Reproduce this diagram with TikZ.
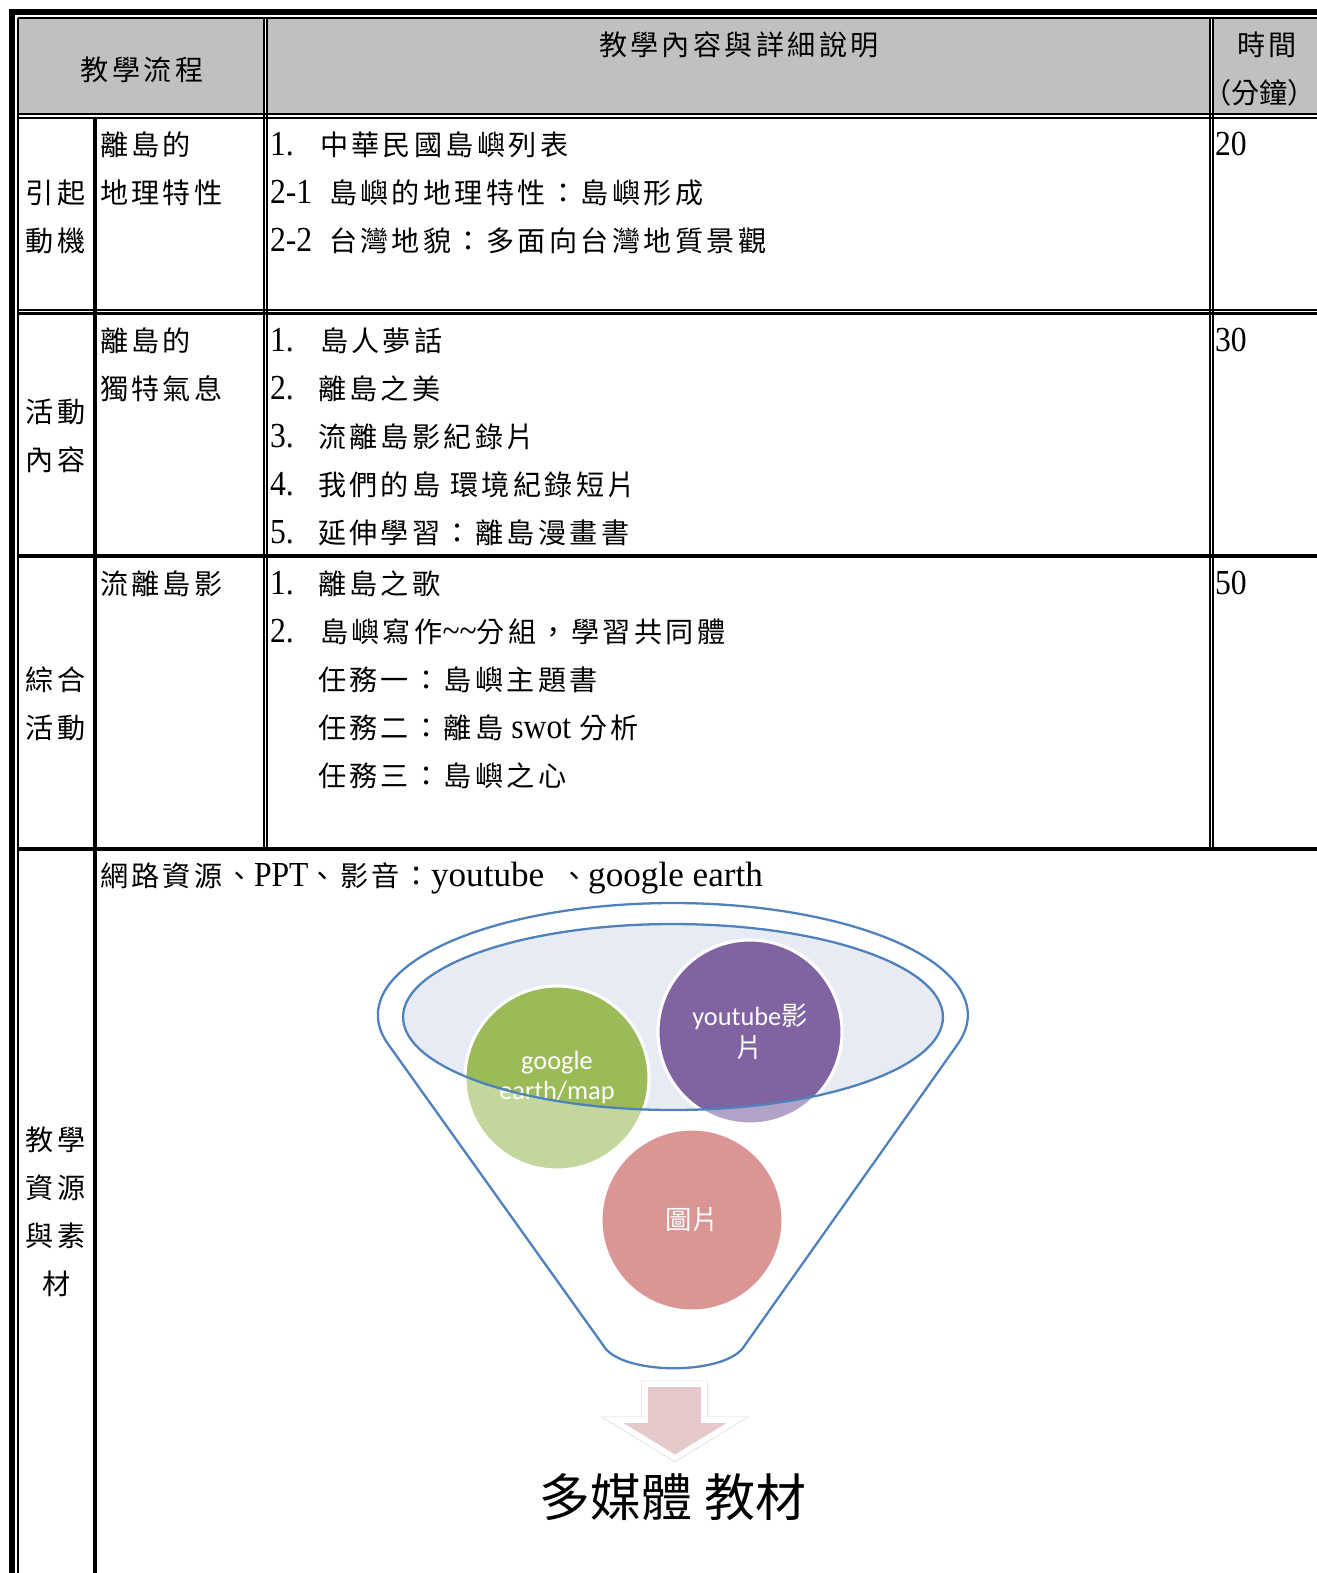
\documentclass[tikz,border=0pt]{standalone}
\usepackage{fontspec}
\setmainfont[FakeStretch=0.9]{Liberation Serif}
\newfontfamily\zhfont[Scale=0.8,LetterSpace=12]{Noto Sans CJK TC}
\newfontfamily\zhsans{Noto Sans CJK TC}
\newfontfamily\calfont{Carlito}
\newfontfamily\latwide{Liberation Serif}
\newcommand\zh[1]{{\zhfont #1}}
\definecolor{headgray}{HTML}{C0C0C0}
\definecolor{funnelblue}{HTML}{4F81BD}
\definecolor{bowlfill}{HTML}{E6EBF4}
\definecolor{leafgreen}{HTML}{9BBB59}
\definecolor{leafgreenlt}{HTML}{C3D69B}
\definecolor{plum}{HTML}{8064A2}
\definecolor{plumlt}{HTML}{B3A2C7}
\definecolor{rose}{HTML}{D99694}
\definecolor{arrowpink}{HTML}{E6CACB}
\begin{document}
\begin{tikzpicture}[x=0.02cm, y=-0.02cm,
	every node/.style={inner sep=0pt, outer sep=0pt},
	font=\fontsize{20pt}{24pt}\selectfont,
	cell/.style={anchor=base west},
	thinrule/.style={line width=0.85pt},
	midrule/.style={line width=1.4pt},
	thickrule/.style={line width=2.2pt},
	bubble/.style={draw=white, line width=1.7pt},
	bubbletext/.style={text=white, font=\calfont\fontsize{15pt}{18pt}\selectfont}]
	\useasboundingbox (0,0) rectangle (1317,1573);
	\clip (0,0) rectangle (1317,1573);
	\fill [color=white] (0,0) rectangle (1317,1573);
	% header cells
	\fill [color=headgray] (19,19) rectangle (263,113);
	\fill [color=headgray] (268,19) rectangle (1209,113);
	\fill [color=headgray] (1214,19) rectangle (1317,113);
	% outer frame
	\fill [color=black] (9,9) rectangle (1317,15);
	\fill [color=black] (9,9) rectangle (15,1573);
	\draw [thinrule] (18,18) -- (1317,18);
	\draw [thinrule] (18,18) -- (18,1573);
	% row rules
	\draw [thinrule] (18,114) -- (1317,114);
	\draw [midrule] (18,118) -- (1317,118);
	\draw [thinrule] (18,310) -- (1317,310);
	\draw [midrule] (18,313.5) -- (1317,313.5);
	\draw [thickrule] (18,556) -- (1317,556);
	\draw [thickrule] (18,849) -- (1317,849);
	% column rules
	\draw [thickrule] (95,118) -- (95,1573);
	\draw [thinrule] (264,18) -- (264,849);
	\draw [thinrule] (267,18) -- (267,849);
	\draw [thinrule] (1210,18) -- (1210,849);
	\draw [thinrule] (1213,18) -- (1213,849);

	% header
	\node [anchor=base] (hflow) at (142,80) {\zh{教學流程}};
	\node [anchor=base] (hcontent) at (739,55) {\zh{教學內容與詳細說明}};
	\node [anchor=base] (htime) at (1267,55) {\zh{時間}};
	\node [anchor=base east, font=\zhsans\fontsize{16pt}{19pt}\selectfont] (hmin) at (1316,103) {（分鐘）};

	% row 1
	\node [cell] (s1a) at (26,203) {\zh{引起}};
	\node [cell] (s1b) at (26,251) {\zh{動機}};
	\node [cell] (t1a) at (100,155) {\zh{離島的}};
	\node [cell] (t1b) at (100,203) {\zh{地理特性}};
	\node [cell] (n1a) at (270,155) {1.};
	\node [cell] (c1a) at (320,155) {\zh{中華民國島嶼列表}};
	\node [cell] (n1b) at (270,203) {2-1};
	\node [cell] (c1b) at (329,203) {\zh{島嶼的地理特性：島嶼形成}};
	\node [cell] (n1c) at (270,251) {2-2};
	\node [cell] (c1c) at (329,251) {\zh{台灣地貌：多面向台灣地質景觀}};
	\node [cell] (m1) at (1215,155) {20};

	% row 2
	\node [cell] (s2a) at (26,422) {\zh{活動}};
	\node [cell] (s2b) at (26,470) {\zh{內容}};
	\node [cell] (t2a) at (100,351) {\zh{離島的}};
	\node [cell] (t2b) at (100,399) {\zh{獨特氣息}};
	\node [cell] (n2a) at (270,351) {1.};
	\node [cell] (c2a) at (320,351) {\zh{島人夢話}};
	\node [cell] (n2b) at (270,399) {2.};
	\node [cell] (c2b) at (318,399) {\zh{離島之美}};
	\node [cell] (n2c) at (270,447) {3.};
	\node [cell] (c2c) at (318,447) {\zh{流離島影紀錄片}};
	\node [cell] (n2d) at (270,495) {4.};
	\node [cell] (c2d) at (318,495) {\zh{我們的島\hspace{0.35em}環境紀錄短片}};
	\node [cell] (n2e) at (270,543) {5.};
	\node [cell] (c2e) at (318,543) {\zh{延伸學習：離島漫畫書}};
	\node [cell] (m2) at (1215,351) {30};

	% row 3
	\node [cell] (s3a) at (26,690) {\zh{綜合}};
	\node [cell] (s3b) at (26,738) {\zh{活動}};
	\node [cell] (t3a) at (100,594) {\zh{流離島影}};
	\node [cell] (n3a) at (270,594) {1.};
	\node [cell] (c3a) at (318,594) {\zh{離島之歌}};
	\node [cell] (n3b) at (270,642) {2.};
	\node [cell] (c3b) at (320,642) {\zh{島嶼寫作}\textasciitilde\textasciitilde\zh{分組，學習共同體}};
	\node [cell] (c3c) at (318,690) {\zh{任務一：島嶼主題書}};
	\node [cell] (c3d) at (318,738) {\zh{任務二：離島} swot \zh{分析}};
	\node [cell] (c3e) at (318,786) {\zh{任務三：島嶼之心}};
	\node [cell] (m3) at (1215,594) {50};

	% row 4
	\node [cell] (s4a) at (26,1150) {\zh{教學}};
	\node [cell] (s4b) at (26,1198) {\zh{資源}};
	\node [cell] (s4c) at (26,1246) {\zh{與素}};
	\node [cell] (s4d) at (42,1294) {\zh{材}};
	\node [cell] (c4) at (100,886) {\zh{網路資源、}PPT\zh{、影音：}{\latwide youtube}\ \ \zh{、}{\latwide google earth}};

	% funnel
	\fill [color=bowlfill] (673,1017) ellipse [x radius=5.4cm, y radius=1.86cm];
	\filldraw [bubble, fill=leafgreenlt] (557,1078) circle [radius=1.84cm];
	\filldraw [bubble, fill=plumlt] (750,1032) circle [radius=1.84cm];
	\begin{scope}
		\clip (673,1017) ellipse [x radius=5.4cm, y radius=1.86cm];
		\filldraw [bubble, fill=leafgreen] (557,1078) circle [radius=1.84cm];
		\filldraw [bubble, fill=plum] (750,1032) circle [radius=1.84cm];
	\end{scope}
	\filldraw [bubble, fill=rose] (692,1220) circle [radius=1.82cm];
	\node [bubbletext] (g1) at (557,1063) {google};
	\node [bubbletext] (g2) at (557,1092) {earth/map};
	\node [bubbletext] (y1) at (750,1017) {youtube{\zhsans 影}};
	\node [bubbletext] (y2) at (750,1048) {\zhsans 片};
	\node [bubbletext] (p1) at (692,1220) {\zhsans 圖片};
	\draw [color=funnelblue, line width=1.3pt] (673,1017) ellipse [x radius=5.4cm, y radius=1.86cm];
	\draw [color=funnelblue, line width=1.3pt, line join=round] (388,1044)
		arc [start angle=195, end angle=-15, x radius=5.9cm, y radius=2.24cm]
		-- (745,1345) .. controls (728,1376) and (620,1376) .. (603,1345) -- cycle;

	% arrow
	\coordinate (a1) at (645,1384);
	\coordinate (a2) at (704,1384);
	\coordinate (a3) at (704,1420);
	\coordinate (a4) at (737,1420);
	\coordinate (a5) at (675,1458);
	\coordinate (a6) at (613,1420);
	\coordinate (a7) at (645,1420);
	\draw [color=black!15, line width=4pt] (a1) -- (a2) -- (a3) -- (a4) -- (a5) -- (a6) -- (a7) -- cycle;
	\filldraw [fill=arrowpink, draw=white, line width=3.2pt] (a1) -- (a2) -- (a3) -- (a4) -- (a5) -- (a6) -- (a7) -- cycle;
	\node [font=\zhsans\fontsize{29pt}{34pt}\selectfont] (media) at (673,1497) {多媒體 教材};
\end{tikzpicture}
\end{document}
